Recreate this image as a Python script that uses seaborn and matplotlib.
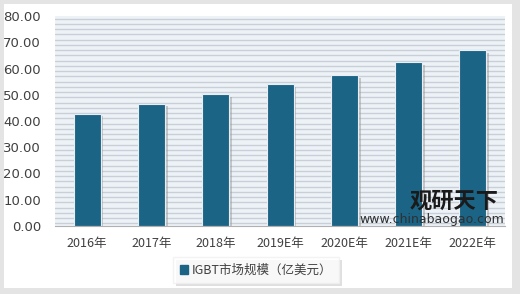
import matplotlib
matplotlib.use("Agg")
import matplotlib.pyplot as plt
import matplotlib.patches as mpatches
import matplotlib.patheffects as pe
import seaborn as sns
import pandas as pd
import numpy as np

categories = ["2016年", "2017年", "2018年", "2019E年", "2020E年", "2021E年", "2022E年"]
values = [42.8, 46.6, 50.3, 54.1, 57.6, 62.4, 66.9]
series_name = "IGBT市场规模（亿美元）"
yticks = [0, 10, 20, 30, 40, 50, 60, 70, 80]
ytick_labels = ["0.00", "10.00", "20.00", "30.00", "40.00", "50.00", "60.00", "70.00", "80.00"]

sns.set_theme(style="white")
plt.rcParams['font.family'] = ['Noto Sans CJK SC', 'DejaVu Sans']

df = pd.DataFrame({"year": categories, "value": values})

fig = plt.figure(figsize=(5.2, 2.94), dpi=100)
fig.patch.set_facecolor("#e4e4e4")
# inner white panel
fig.patches.append(mpatches.Rectangle((4/520, 6/294), 508/520, 284/294, transform=fig.transFigure,
                                      facecolor="white", edgecolor="none", zorder=-5))

ax = fig.add_axes([55/520, (294-226)/294, 450/520, 210/294])
ax.set_facecolor("#edf2f7")

# striped background
for yv in np.arange(1, 80.1, 2):
    ax.axhline(yv, color="#c9cfd6", lw=1.0, zorder=0.5)

bar_color = "#1b6486"
sns.barplot(data=df, x="year", y="value", color=bar_color, width=0.42, ax=ax,
            saturation=1, edgecolor="#e8eef2", linewidth=0.8, zorder=2)
for p in ax.patches:
    p.set_path_effects([pe.SimplePatchShadow(offset=(2, -2), shadow_rgbFace="#9a9a9a", alpha=0.5), pe.Normal()])

ax.set_xlim(-0.5, 6.5)
ax.set_ylim(0, 80)
ax.set_yticks(yticks)
ax.set_yticklabels(ytick_labels, fontsize=9.5, color="#404040", family=['DejaVu Sans'])
ax.set_xticklabels(categories, fontsize=9, color="#404040")
ax.tick_params(axis="x", pad=8, length=0)
ax.tick_params(axis="y", pad=10, length=0)
ax.set_xlabel("")
ax.set_ylabel("")
for s in ["top", "right", "left"]:
    ax.spines[s].set_visible(False)
ax.spines["bottom"].set_color("#b0b0b0")
ax.spines["bottom"].set_linewidth(0.8)

# legend
handle = mpatches.Patch(color=bar_color, label=series_name)
leg = fig.legend(handles=[handle], loc="center", bbox_to_anchor=(256/520, 1 - 270/294),
                 fontsize=9, frameon=True, handlelength=0.7, handleheight=0.7,
                 handletextpad=0.3, borderpad=0.5, fancybox=False, shadow=False)
leg.get_frame().set_edgecolor("#f0f0f0")
leg.get_frame().set_facecolor("white")
leg.get_frame().set_path_effects([pe.SimplePatchShadow(offset=(2, -2), shadow_rgbFace="#c0c0c0", alpha=0.5), pe.Normal()])
for t in leg.get_texts():
    t.set_color("#404040")

# watermark
fig.text(454/520, 1 - 201/294, "观研天下", fontsize=16, fontweight="bold", color="#1a1a1a",
         ha="center", va="center")
fig.text(432/520, 1 - 219/294, "www.chinabaogao.com", fontsize=9, color="#303030",
         ha="center", va="center", family=['DejaVu Sans'])

fig.savefig("out.png", dpi=100)
